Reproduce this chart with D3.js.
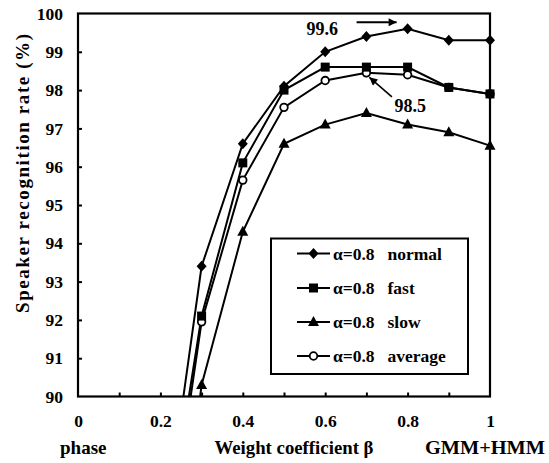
<!DOCTYPE html>
<html>
<head>
<meta charset="utf-8">
<script src="https://cdn.jsdelivr.net/npm/d3@7/dist/d3.min.js"></script>
<style>
  html, body { margin: 0; padding: 0; background: #fff; }
  svg { display: block; }
  text { font-family: "Liberation Serif", "Times New Roman", serif; fill: #000; }
</style>
</head>
<body>
<svg id="chart" width="549" height="463" font-family="Liberation Serif, Times New Roman, serif"></svg>
<script>
// ---- data ----
const betaValues = [0.2, 0.3, 0.4, 0.5, 0.6, 0.7, 0.8, 0.9, 1.0];
const normalRates  = [85.7, 93.4, 96.6, 98.1, 99.0, 99.4, 99.6, 99.3, 99.3];
const fastRates    = [85.3, 92.1, 96.1, 98.0, 98.6, 98.6, 98.6, 98.07, 97.9];
const slowRates    = [82.0, 90.3, 94.3, 96.6, 97.1, 97.4, 97.1, 96.9, 96.55];
const averageRates = [84.6, 91.95, 95.65, 97.55, 98.25, 98.45, 98.4, 98.07, 97.9];
const seriesNames  = ["normal", "fast", "slow", "average"];
const seriesMarkers = ["diamond", "square", "triangle", "circle"];
const markerDrawOrder = [3, 2, 0, 1];
const xTickLabels = [0, 0.2, 0.4, 0.6, 0.8, 1];
const xMinorTicks = [0.1, 0.2, 0.3, 0.4, 0.5, 0.6, 0.7, 0.8, 0.9];
const yTickLabels = [90, 91, 92, 93, 94, 95, 96, 97, 98, 99, 100];
const annotations = [
  { text: "99.6", beta: 0.8, value: 99.6 },
  { text: "98.5", beta: 0.7, value: 98.45 }
];

const seriesList = [normalRates, fastRates, slowRates, averageRates].map((vals, i) => ({
  name: seriesNames[i],
  marker: seriesMarkers[i],
  points: betaValues.map((b, j) => ({ beta: b, value: vals[j] }))
}));

const FF = '"Liberation Serif", "Times New Roman", serif';

// ---- layout ----
const svg = d3.select("#chart");
const L = 78, R = 490, T = 13.5, B = 396.5;
const x = d3.scaleLinear().domain([0, 1]).range([L, R]);
const y = d3.scaleLinear().domain([90, 100]).range([B, T]);

const defs = svg.append("defs");
defs.append("clipPath").attr("id", "plotClip")
  .append("rect").attr("x", L).attr("y", T - 10).attr("width", R - L + 10).attr("height", B - T + 10);
defs.append("marker").attr("id", "arrowHead")
  .attr("viewBox", "0 0 10 10").attr("refX", 10).attr("refY", 5)
  .attr("markerWidth", 13).attr("markerHeight", 8).attr("markerUnits", "userSpaceOnUse")
  .attr("orient", "auto")
  .append("path").attr("d", "M0,0 L10,5 L0,10 Z").attr("fill", "#000");

// axes: labels
const fontTick = 17.5;
const xAxisLabels = d3.axisBottom(x).tickValues(xTickLabels).tickSize(0).tickPadding(18)
  .tickFormat(d => d3.format("")(d));
const gx = svg.append("g").attr("transform", `translate(0,${B})`).call(xAxisLabels);
gx.attr("font-family", FF);
gx.select(".domain").remove();
gx.selectAll("text").attr("font-size", fontTick).attr("font-weight", "bold").style("font-family", FF);

const xAxisMinor = d3.axisBottom(x).tickValues(xMinorTicks).tickSize(-4).tickFormat("");
const gxm = svg.append("g").attr("transform", `translate(0,${B})`).call(xAxisMinor);
gxm.select(".domain").remove();
gxm.selectAll("line").attr("stroke", "#000").attr("stroke-width", 2);

const yAxis = d3.axisLeft(y).tickValues(yTickLabels).tickSize(0).tickPadding(15);
const gy = svg.append("g").attr("transform", `translate(${L},0)`).call(yAxis);
gy.attr("font-family", FF);
gy.select(".domain").remove();
gy.selectAll("text").attr("font-size", fontTick).attr("font-weight", "bold").style("font-family", FF);

const yAxisMinor = d3.axisLeft(y).tickValues(yTickLabels.slice(1, -1)).tickSize(-4).tickFormat("");
const gym = svg.append("g").attr("transform", `translate(${L},0)`).call(yAxisMinor);
gym.select(".domain").remove();
gym.selectAll("line").attr("stroke", "#000").attr("stroke-width", 2);

// frame
svg.append("rect").attr("x", L).attr("y", T).attr("width", R - L).attr("height", B - T)
  .attr("fill", "none").attr("stroke", "#000").attr("stroke-width", 2.2);

// series
const line = d3.line().x(d => x(d.beta)).y(d => y(d.value));
const plot = svg.append("g").attr("clip-path", "url(#plotClip)");

function drawMarker(g, type, cx, cy) {
  if (type === "diamond") {
    g.append("path").attr("d", `M${cx},${cy - 5.5} L${cx + 5},${cy} L${cx},${cy + 5.5} L${cx - 5},${cy} Z`).attr("fill", "#000");
  } else if (type === "square") {
    g.append("rect").attr("x", cx - 4.5).attr("y", cy - 4.5).attr("width", 9).attr("height", 9).attr("fill", "#000");
  } else if (type === "triangle") {
    g.append("path").attr("d", `M${cx},${cy - 6} L${cx + 5.5},${cy + 4} L${cx - 5.5},${cy + 4} Z`).attr("fill", "#000");
  } else if (type === "circle") {
    g.append("circle").attr("cx", cx).attr("cy", cy).attr("r", 3.8)
      .attr("fill", "#fff").attr("stroke", "#000").attr("stroke-width", 1.8);
  }
}

seriesList.forEach(s => {
  plot.append("path").datum(s.points).attr("d", line)
    .attr("fill", "none").attr("stroke", "#000").attr("stroke-width", 2);
});
markerDrawOrder.forEach(i => {
  const s = seriesList[i];
  const mg = plot.append("g");
  s.points.filter(p => p.value >= 90).forEach(p => drawMarker(mg, s.marker, x(p.beta), y(p.value)));
});

// annotations
const a0 = annotations[0];
svg.append("text").attr("x", x(a0.beta) - 101).attr("y", y(a0.value) + 6)
  .attr("font-size", 18).attr("font-weight", "bold").style("font-family", FF).text(a0.text);
svg.append("line").attr("x1", x(a0.beta) - 51).attr("y1", y(a0.value) - 6.5)
  .attr("x2", x(a0.beta) - 11).attr("y2", y(a0.value) - 6.5)
  .attr("stroke", "#000").attr("stroke-width", 2).attr("marker-end", "url(#arrowHead)");

const a1 = annotations[1];
svg.append("text").attr("x", x(a1.beta) + 28).attr("y", y(a1.value) + 39)
  .attr("font-size", 18).attr("font-weight", "bold").style("font-family", FF).text(a1.text);
svg.append("line").attr("x1", x(a1.beta) + 25.5).attr("y1", y(a1.value) + 24)
  .attr("x2", x(a1.beta) + 3).attr("y2", y(a1.value) + 4.5)
  .attr("stroke", "#000").attr("stroke-width", 1.6).attr("marker-end", "url(#arrowHead)");

// legend
const lg = svg.append("g");
lg.append("rect").attr("x", 271).attr("y", 238.5).attr("width", 197).attr("height", 135.5)
  .attr("fill", "#fff").attr("stroke", "#000").attr("stroke-width", 2);
const rowY = [253.5, 288, 322, 356];
seriesList.forEach((s, i) => {
  const cy = rowY[i];
  lg.append("line").attr("x1", 297).attr("x2", 330).attr("y1", cy).attr("y2", cy)
    .attr("stroke", "#000").attr("stroke-width", 2);
  drawMarker(lg, s.marker, 313.5, cy);
  lg.append("text").attr("x", 333).attr("y", cy + 6).attr("font-size", 17.5).attr("font-weight", "bold")
    .style("font-family", FF).text("α=0.8");
  lg.append("text").attr("x", 387.5).attr("y", cy + 6).attr("font-size", 17.5).attr("font-weight", "bold")
    .style("font-family", FF).text(s.name);
});

// axis titles
svg.append("text").attr("transform", "translate(29,173.5) rotate(-90)")
  .attr("text-anchor", "middle").attr("font-size", 19).attr("font-weight", "bold")
  .style("font-family", FF)
  .attr("textLength", 279).attr("lengthAdjust", "spacing")
  .text("Speaker recognition rate (%)");

svg.append("text").attr("x", 60).attr("y", 453.5).attr("font-size", 19).attr("font-weight", "bold")
  .style("font-family", FF)
  .attr("textLength", 46.5).attr("lengthAdjust", "spacingAndGlyphs").text("phase");
svg.append("text").attr("x", 214.5).attr("y", 453.5).attr("font-size", 19).attr("font-weight", "bold")
  .style("font-family", FF)
  .attr("textLength", 159).attr("lengthAdjust", "spacingAndGlyphs").text("Weight coefficient β");
svg.append("text").attr("x", 425).attr("y", 453.5).attr("font-size", 19).attr("font-weight", "bold")
  .style("font-family", FF)
  .attr("textLength", 120).attr("lengthAdjust", "spacingAndGlyphs").text("GMM+HMM");
</script>
</body>
</html>
